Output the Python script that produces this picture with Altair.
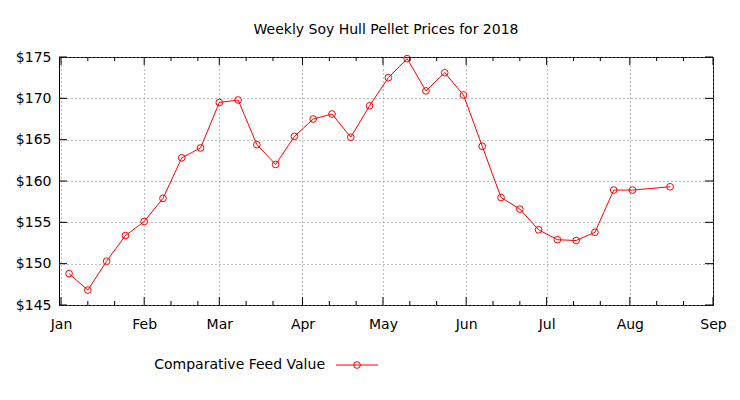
import altair as alt
import pandas as pd

# ---- data ----
dates = [
    "2018-01-04", "2018-01-11", "2018-01-18", "2018-01-25",
    "2018-02-01", "2018-02-08", "2018-02-15", "2018-02-22",
    "2018-03-01", "2018-03-08", "2018-03-15", "2018-03-22", "2018-03-29",
    "2018-04-05", "2018-04-12", "2018-04-19", "2018-04-26",
    "2018-05-03", "2018-05-10", "2018-05-17", "2018-05-24", "2018-05-31",
    "2018-06-07", "2018-06-14", "2018-06-21", "2018-06-28",
    "2018-07-05", "2018-07-12", "2018-07-19", "2018-07-26",
    "2018-08-02", "2018-08-16",
]
prices = [
    148.8, 146.8, 150.3, 153.4,
    155.1, 157.9, 162.8, 164.0,
    169.5, 169.8, 164.4, 162.0, 165.4,
    167.5, 168.1, 165.3, 169.1,
    172.5, 174.8, 170.9, 173.1, 170.4,
    164.2, 158.0, 156.6, 154.1,
    152.9, 152.8, 153.8, 158.9,
    158.9, 159.3,
]
series_name = "Comparative Feed Value"
title_text = "Weekly Soy Hull Pellet Prices for 2018"
month_numbers = [1, 2, 3, 4, 5, 6, 7, 8, 9]
minor_days = [11, 21]
y_ticks = [145, 150, 155, 160, 165, 170, 175]

# ---- layout ----
W, H = 654, 248
FONT = "DejaVu Sans"
FS = 14
RED = "#ff0000"
GRID = "#808080"

df = pd.DataFrame({"date": [d + "T00:00:00" for d in dates], "price": prices})
major_df = pd.DataFrame({"date": [f"2018-{m:02d}-01T00:00:00" for m in month_numbers]})
minor_df = pd.DataFrame({"date": [f"2018-{m:02d}-{d:02d}T00:00:00"
                                  for m in month_numbers[:-1] for d in minor_days]})
ytick_df = pd.DataFrame({"price": y_ticks})

x_scale = alt.Scale(domain=[alt.DateTime(year=2017, month=12, date=31, hours=6),
                            alt.DateTime(year=2018, month=9, date=1)])
y_scale = alt.Scale(domain=[145, 175], nice=False, zero=False)

x_axis = alt.Axis(values=[alt.DateTime(year=2018, month=m, date=1) for m in month_numbers],
                  format="%b", tickSize=0, domain=False, labelPadding=12,
                  labelFlush=False, labelOverlap=False,
                  grid=True, gridDash=[1, 3], gridColor=GRID, title=None,
                  labelFont=FONT, labelFontSize=FS, labelColor="black")
y_axis = alt.Axis(values=y_ticks, labelExpr="'$' + datum.value", tickSize=0,
                  domain=False, labelPadding=8, labelFlush=False, labelOverlap=False,
                  grid=True, gridDash=[1, 3],
                  gridColor=GRID, title=None, labelFont=FONT, labelFontSize=FS,
                  labelColor="black")

base = alt.Chart(df).encode(
    x=alt.X("date:T", scale=x_scale, axis=x_axis),
    y=alt.Y("price:Q", scale=y_scale, axis=y_axis),
)
line = base.mark_line(color=RED, strokeWidth=1)
pts = base.mark_point(color=RED, size=45, strokeWidth=1, filled=False, opacity=1)

def xticks(d, y1, y2):
    return alt.Chart(d).mark_rule(color="black", strokeWidth=1).encode(
        x=alt.X("date:T", scale=x_scale, axis=x_axis),
        y=alt.value(y1), y2=alt.value(y2))

def yticks(x1, x2):
    return alt.Chart(ytick_df).mark_rule(color="black", strokeWidth=1).encode(
        y=alt.Y("price:Q", scale=y_scale, axis=y_axis),
        x=alt.value(x1), x2=alt.value(x2))

ticks = [
    xticks(major_df, H, H - 8), xticks(major_df, 0, 8),
    xticks(minor_df, H, H - 4), xticks(minor_df, 0, 4),
    yticks(0, 8), yticks(W - 8, W),
]

leg_data = alt.Data(values=[{"label": series_name}])
leg_text = alt.Chart(leg_data).mark_text(align="right", baseline="middle", font=FONT,
                                         fontSize=FS, color="black").encode(
    text="label:N", x=alt.value(266), y=alt.value(308))
leg_rule = alt.Chart(leg_data).mark_rule(color=RED, strokeWidth=1).encode(
    x=alt.value(277), x2=alt.value(319), y=alt.value(308))
leg_pt = alt.Chart(leg_data).mark_point(color=RED, size=45, strokeWidth=1, filled=False,
                                        opacity=1).encode(
    x=alt.value(298), y=alt.value(308))

chart = alt.layer(line, pts, *ticks, leg_rule, leg_pt, leg_text).properties(
    width=W, height=H,
    title=alt.TitleParams(title_text, font=FONT, fontSize=FS, fontWeight="normal",
                          color="black", offset=13),
    autosize=alt.AutoSizeParams(type="none"),
    padding={"left": 51, "top": 49, "right": 19, "bottom": 80},
).configure_view(stroke="black", strokeWidth=1)

chart.save("out.html", embed_options={"renderer": "svg", "actions": False})
